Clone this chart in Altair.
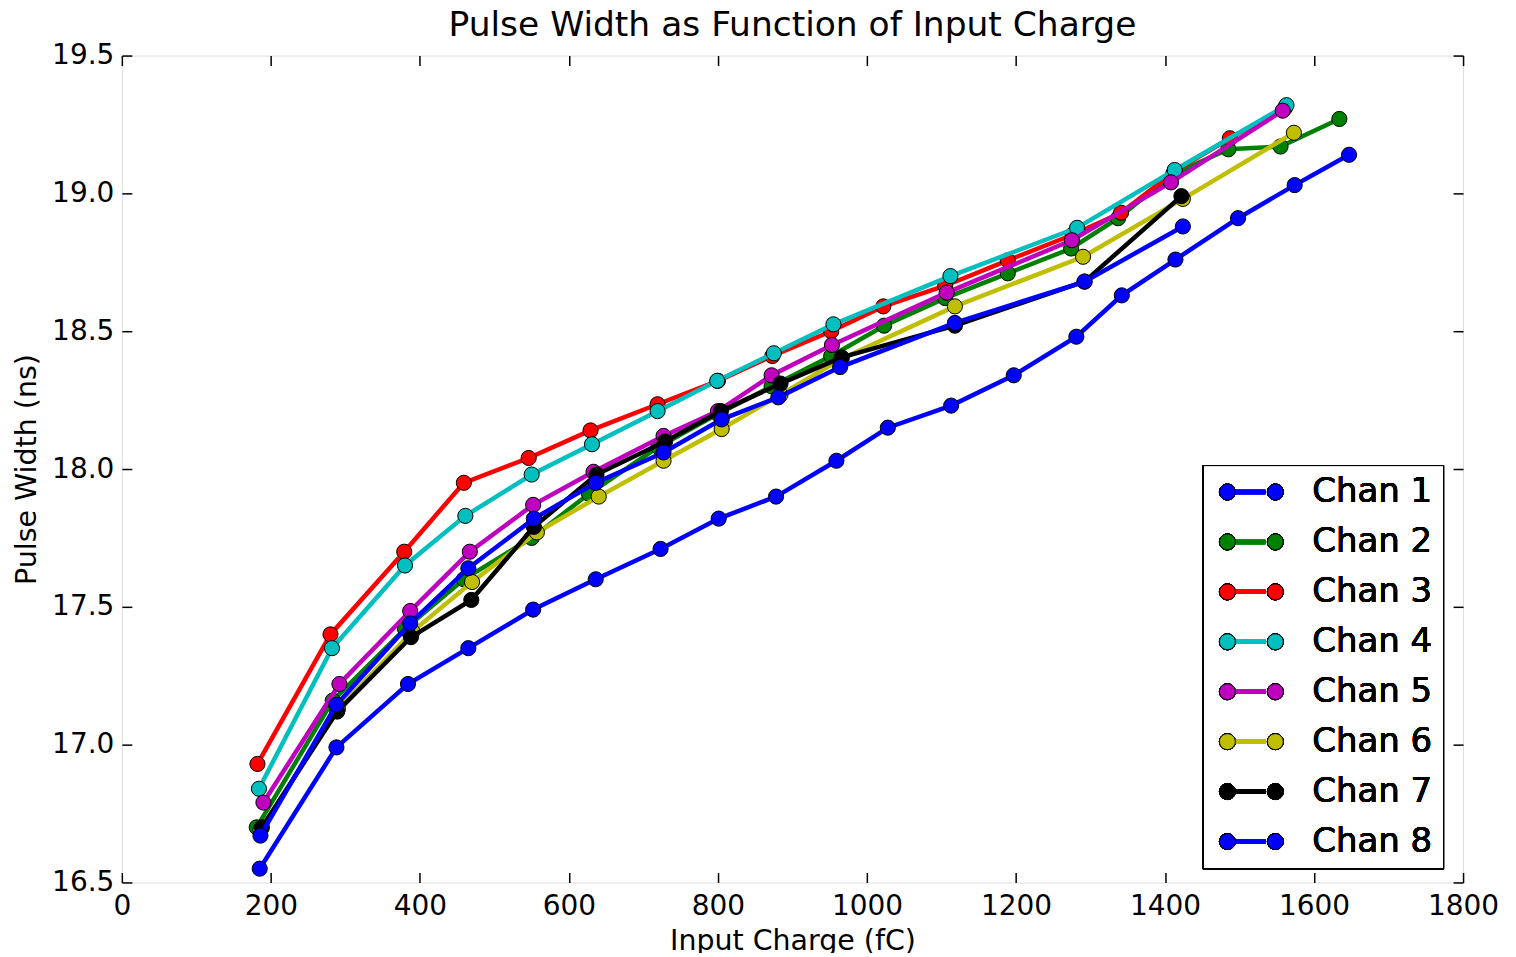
import altair as alt
import pandas as pd

# ---------------- data ----------------
chan_names = ["Chan 1", "Chan 2", "Chan 3", "Chan 4", "Chan 5", "Chan 6", "Chan 7", "Chan 8"]
chan_colors = ["#0000ff", "#008000", "#ff0000", "#00bfbf", "#bf00bf", "#bfbf00", "#000000", "#0000ff"]

chan1_x = [185, 288, 384, 465, 552, 636, 723, 801, 878, 959, 1028, 1113, 1197, 1281, 1342, 1414, 1498, 1574, 1647]
chan1_y = [16.55, 16.99, 17.22, 17.35, 17.49, 17.60, 17.71, 17.82, 17.90, 18.03, 18.15, 18.23, 18.34, 18.48, 18.63, 18.76, 18.91, 19.03, 19.14]

chan2_x = [181, 283, 380, 459, 550, 627, 720, 800, 872, 952, 1023, 1105, 1189, 1274, 1337, 1411, 1485, 1555, 1634]
chan2_y = [16.70, 17.16, 17.42, 17.60, 17.75, 17.91, 18.08, 18.20, 18.30, 18.41, 18.52, 18.62, 18.71, 18.80, 18.91, 19.07, 19.16, 19.17, 19.27]

chan3_x = [182, 280, 379, 459, 546, 629, 719, 800, 873, 952, 1022, 1105, 1189, 1276, 1341, 1413, 1487, 1561]
chan3_y = [16.93, 17.40, 17.70, 17.95, 18.04, 18.14, 18.235, 18.32, 18.41, 18.50, 18.59, 18.665, 18.757, 18.85, 18.93, 19.08, 19.20, 19.31]

chan4_x = [184, 282, 380, 461, 550, 631, 719, 799, 875, 955, 1112, 1282, 1413, 1563]
chan4_y = [16.84, 17.35, 17.65, 17.83, 17.98, 18.09, 18.21, 18.32, 18.42, 18.525, 18.70, 18.875, 19.085, 19.32]

chan5_x = [190, 292, 387, 467, 552, 633, 727, 800, 872, 953, 1107, 1275, 1408, 1558]
chan5_y = [16.79, 17.22, 17.485, 17.70, 17.87, 17.99, 18.12, 18.21, 18.34, 18.45, 18.64, 18.83, 19.04, 19.30]

chan6_x = [186, 290, 390, 470, 557, 640, 727, 805, 884, 966, 1118, 1290, 1424, 1573]
chan6_y = [16.69, 17.13, 17.41, 17.59, 17.77, 17.90, 18.03, 18.145, 18.27, 18.40, 18.59, 18.77, 18.98, 19.22]

chan7_x = [188, 289, 388, 469, 553, 637, 729, 804, 884, 966, 1118, 1292, 1422]
chan7_y = [16.70, 17.12, 17.39, 17.525, 17.79, 17.98, 18.10, 18.21, 18.31, 18.405, 18.52, 18.68, 18.99]

chan8_x = [186, 288, 387, 465, 553, 636, 727, 805, 881, 964, 1118, 1292, 1424]
chan8_y = [16.67, 17.145, 17.44, 17.64, 17.82, 17.95, 18.06, 18.18, 18.26, 18.37, 18.53, 18.68, 18.88]

x_ticks = [0, 200, 400, 600, 800, 1000, 1200, 1400, 1600, 1800]
y_ticks = [16.5, 17.0, 17.5, 18.0, 18.5, 19.0, 19.5]

series_x = [chan1_x, chan2_x, chan3_x, chan4_x, chan5_x, chan6_x, chan7_x, chan8_x]
series_y = [chan1_y, chan2_y, chan3_y, chan4_y, chan5_y, chan6_y, chan7_y, chan8_y]

rows = []
for name, xs, ys in zip(chan_names, series_x, series_y):
    for i, (xv, yv) in enumerate(zip(xs, ys)):
        rows.append({"channel": name, "channel_f": name, "charge": xv, "width": yv, "order": i})
df = pd.DataFrame(rows)

# ---------------- styling ----------------
FONT = "DejaVu Sans"
x_scale = alt.Scale(domain=[0, 1800], nice=False, zero=False)
y_scale = alt.Scale(domain=[16.5, 19.5], nice=False, zero=False)
stroke_scale = alt.Scale(domain=chan_names, range=chan_colors)
fill_scale = alt.Scale(domain=chan_names, range=chan_colors)

# legend symbol paths (unit = sqrt(symbolSize)/2 px = 13.5 px)
r = 0.59
c1, c2 = -0.148, 3.41
circ_path = (
    f"M{c1 - r},0A{r},{r} 0 1,0 {c1 + r},0A{r},{r} 0 1,0 {c1 - r},0Z"
    f"M{c2 - r},0A{r},{r} 0 1,0 {c2 + r},0A{r},{r} 0 1,0 {c2 - r},0Z"
)
shift = -0.148
line_path = f"M{c1 + shift + r},0L{c2 + shift - r},0"

LEG_X, LEG_Y = 1082, 410
common_legend = dict(
    orient="none", legendX=LEG_X, legendY=LEG_Y, title=None,
    labelFontSize=34, labelFont=FONT, labelColor="black",
    symbolSize=729, padding=10, rowPadding=16, labelOffset=66,
    labelLimit=400,
)
stroke_legend = alt.Legend(
    symbolType=line_path, symbolStrokeWidth=4.5, labelOpacity=0, **common_legend
)
fill_legend = alt.Legend(
    symbolType=circ_path, symbolStrokeWidth=1, symbolStrokeColor="black",
    symbolOpacity=1, strokeColor="black", **common_legend
)

base = alt.Chart(df)

layers = []
for name in chan_names:
    sub = base.transform_filter(alt.datum.channel == name)
    line = sub.mark_line(strokeWidth=4.5, opacity=1).encode(
        x=alt.X("charge:Q", scale=x_scale, axis=None),
        y=alt.Y("width:Q", scale=y_scale, axis=None),
        order="order:Q",
        stroke=alt.Stroke("channel:N", scale=stroke_scale, legend=stroke_legend),
    )
    pts = sub.mark_point(
        filled=True, shape="circle", size=230, stroke="black", strokeWidth=1,
        opacity=1, fillOpacity=1,
    ).encode(
        x=alt.X("charge:Q", scale=x_scale, axis=None),
        y=alt.Y("width:Q", scale=y_scale, axis=None),
        fill=alt.Fill("channel_f:N", scale=fill_scale, legend=fill_legend),
    )
    layers += [line, pts]

axis_common = dict(
    grid=False, domain=False, tickColor="black", tickWidth=1.5, tickSize=10,
    offset=-10, labelFont=FONT, labelFontSize=28, labelColor="black",
    labelFlush=False, labelOverlap=False, titleFont=FONT, titleFontSize=28.5,
    titleFontWeight="normal", titleColor="black",
)

axes_main = base.mark_point(opacity=0).encode(
    x=alt.X("charge:Q", scale=x_scale, title="Input Charge (fC)",
            axis=alt.Axis(orient="bottom", values=x_ticks, format="d",
                          labelPadding=10, titlePadding=6, **axis_common)),
    y=alt.Y("width:Q", scale=y_scale, title="Pulse Width (ns)",
            axis=alt.Axis(orient="left", values=y_ticks, format=".1f",
                          labelPadding=8, titlePadding=10, **axis_common)),
)
axes_mirror = base.mark_point(opacity=0).encode(
    x=alt.X("charge:Q", scale=x_scale, title=None,
            axis=alt.Axis(orient="top", values=x_ticks, labels=False, **axis_common)),
    y=alt.Y("width:Q", scale=y_scale, title=None,
            axis=alt.Axis(orient="right", values=y_ticks, labels=False, **axis_common)),
)

chart = alt.layer(axes_main, axes_mirror, *layers).resolve_axis(
    x="independent", y="independent"
).resolve_scale(
    stroke="independent", fill="independent"
).properties(
    width=1343, height=828,
    title=alt.TitleParams(
        "Pulse Width as Function of Input Charge", fontSize=34.5, font=FONT,
        fontWeight="normal", color="black", anchor="middle", offset=-2,
    ),
    autosize=alt.AutoSizeParams(type="none"),
    padding={"left": 114, "top": 47, "right": 45, "bottom": 70},
).configure_view(
    stroke="black", strokeWidth=1.5
).configure(
    font=FONT, background="white"
)

chart.save("out.html", embed_options={"renderer": "svg", "actions": False})
